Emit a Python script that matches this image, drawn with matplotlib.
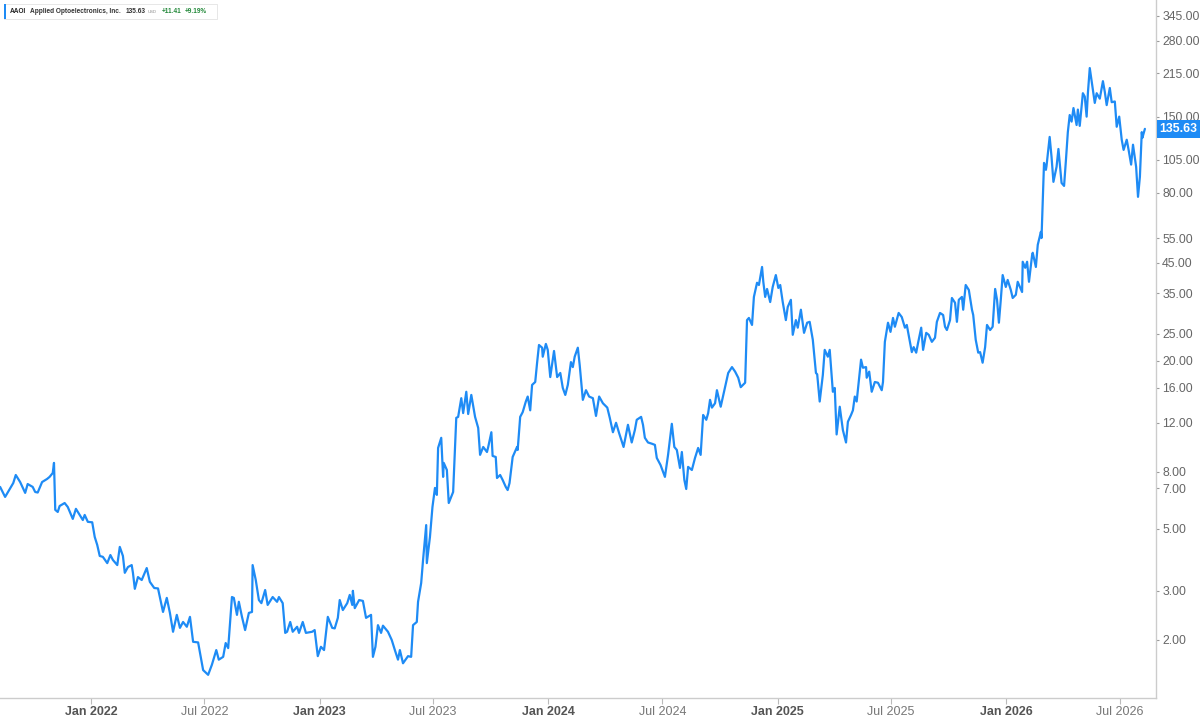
import matplotlib
matplotlib.use("Agg")
import matplotlib.pyplot as plt
from matplotlib.patches import Rectangle
from matplotlib.ticker import FixedLocator, FixedFormatter, NullLocator
import pandas as pd

# ---------------- data ----------------
ticker = "AAOI"
company = "Applied Optoelectronics, Inc."
last_price = 135.63
change = 11.41
change_pct = 9.19
currency = "USD"

dates = [
    "2021-08-09", "2021-08-17", "2021-08-30", "2021-09-03", "2021-09-10", "2021-09-18", "2021-09-22",
    "2021-09-30", "2021-10-04", "2021-10-08", "2021-10-15", "2021-10-23", "2021-10-27", "2021-11-01",
    "2021-11-03", "2021-11-05", "2021-11-09", "2021-11-12", "2021-11-20", "2021-11-25", "2021-12-03",
    "2021-12-08", "2021-12-14", "2021-12-19", "2021-12-22", "2021-12-27",
    "2022-01-03", "2022-01-07", "2022-01-11", "2022-01-15", "2022-01-20", "2022-01-27", "2022-02-01",
    "2022-02-05", "2022-02-12", "2022-02-16", "2022-02-21", "2022-02-24", "2022-03-01", "2022-03-07",
    "2022-03-09", "2022-03-12", "2022-03-17", "2022-03-23", "2022-03-31", "2022-04-05", "2022-04-12",
    "2022-04-18", "2022-04-26", "2022-05-02", "2022-05-07", "2022-05-12", "2022-05-18", "2022-05-23",
    "2022-05-28", "2022-06-03", "2022-06-08", "2022-06-13", "2022-06-21", "2022-06-29", "2022-07-07",
    "2022-07-13", "2022-07-20", "2022-07-24", "2022-07-31", "2022-08-04", "2022-08-08", "2022-08-14",
    "2022-08-17", "2022-08-22", "2022-08-25", "2022-08-30", "2022-09-04", "2022-09-10", "2022-09-15",
    "2022-09-16", "2022-09-21", "2022-09-26", "2022-09-30", "2022-10-06", "2022-10-10", "2022-10-18",
    "2022-10-25", "2022-10-28", "2022-11-03", "2022-11-07", "2022-11-10", "2022-11-15", "2022-11-19",
    "2022-11-26", "2022-11-29", "2022-12-05", "2022-12-10", "2022-12-20", "2022-12-24", "2022-12-29",
    "2023-01-03", "2023-01-08", "2023-01-14", "2023-01-21", "2023-01-25", "2023-01-30", "2023-02-02",
    "2023-02-07", "2023-02-14", "2023-02-18", "2023-02-22", "2023-02-23", "2023-02-26", "2023-03-05",
    "2023-03-11", "2023-03-16", "2023-03-24", "2023-03-27", "2023-03-31", "2023-04-04", "2023-04-09",
    "2023-04-12", "2023-04-20", "2023-04-26", "2023-05-01", "2023-05-06", "2023-05-09", "2023-05-14",
    "2023-05-22", "2023-05-27", "2023-05-30", "2023-06-05", "2023-06-07", "2023-06-12", "2023-06-15",
    "2023-06-20", "2023-06-21", "2023-06-26", "2023-06-30", "2023-07-04", "2023-07-07", "2023-07-09",
    "2023-07-14", "2023-07-17", "2023-07-18", "2023-07-23", "2023-07-26", "2023-08-02", "2023-08-07",
    "2023-08-10", "2023-08-15", "2023-08-18", "2023-08-23", "2023-08-26", "2023-08-31", "2023-09-06",
    "2023-09-11", "2023-09-14", "2023-09-19", "2023-09-25", "2023-09-27", "2023-10-02", "2023-10-04",
    "2023-10-09", "2023-10-11", "2023-10-16", "2023-10-20", "2023-10-25", "2023-10-28", "2023-10-31",
    "2023-11-05", "2023-11-12", "2023-11-13", "2023-11-17", "2023-11-21", "2023-11-26", "2023-11-29",
    "2023-12-03", "2023-12-06", "2023-12-11", "2023-12-14", "2023-12-17", "2023-12-22", "2023-12-23",
    "2023-12-28", "2023-12-31",
    "2024-01-04", "2024-01-10", "2024-01-15", "2024-01-20", "2024-01-24", "2024-01-28", "2024-02-01",
    "2024-02-06", "2024-02-09", "2024-02-12", "2024-02-17", "2024-02-20", "2024-02-25", "2024-03-01",
    "2024-03-06", "2024-03-12", "2024-03-17", "2024-03-22", "2024-03-28", "2024-04-04", "2024-04-08",
    "2024-04-13", "2024-04-18", "2024-04-23", "2024-04-30", "2024-05-07", "2024-05-13", "2024-05-18",
    "2024-05-21", "2024-05-28", "2024-05-31", "2024-06-03", "2024-06-08", "2024-06-14", "2024-06-19",
    "2024-06-22", "2024-06-28", "2024-07-05", "2024-07-10", "2024-07-16", "2024-07-20", "2024-07-24",
    "2024-07-29", "2024-08-01", "2024-08-05", "2024-08-08", "2024-08-11", "2024-08-17", "2024-08-22",
    "2024-08-27", "2024-08-31", "2024-09-04", "2024-09-09", "2024-09-12", "2024-09-15", "2024-09-18",
    "2024-09-23", "2024-09-26", "2024-10-02", "2024-10-09", "2024-10-14", "2024-10-20", "2024-10-25",
    "2024-10-30", "2024-11-03", "2024-11-10", "2024-11-13", "2024-11-16", "2024-11-21", "2024-11-24",
    "2024-11-29", "2024-12-02", "2024-12-07", "2024-12-09", "2024-12-12", "2024-12-15", "2024-12-20",
    "2024-12-24", "2024-12-29",
    "2025-01-02", "2025-01-05", "2025-01-09", "2025-01-14", "2025-01-17", "2025-01-22", "2025-01-25",
    "2025-01-30", "2025-02-02", "2025-02-07", "2025-02-12", "2025-02-17", "2025-02-21", "2025-02-26",
    "2025-03-03", "2025-03-05", "2025-03-09", "2025-03-14", "2025-03-17", "2025-03-22", "2025-03-25",
    "2025-03-30", "2025-04-02", "2025-04-05", "2025-04-10", "2025-04-15", "2025-04-20", "2025-04-23",
    "2025-04-28", "2025-05-01", "2025-05-04", "2025-05-07", "2025-05-14", "2025-05-17", "2025-05-22",
    "2025-05-23", "2025-05-27", "2025-05-31", "2025-06-05", "2025-06-10", "2025-06-16", "2025-06-18",
    "2025-06-21", "2025-06-26", "2025-06-30", "2025-07-04", "2025-07-07", "2025-07-13", "2025-07-18",
    "2025-07-23", "2025-07-26", "2025-07-31", "2025-08-03", "2025-08-06", "2025-08-10", "2025-08-13",
    "2025-08-18", "2025-08-21", "2025-08-26", "2025-08-30", "2025-09-04", "2025-09-09", "2025-09-12",
    "2025-09-17", "2025-09-22", "2025-09-25", "2025-09-28", "2025-10-03", "2025-10-06", "2025-10-11",
    "2025-10-14", "2025-10-17", "2025-10-22", "2025-10-24", "2025-10-28", "2025-11-02", "2025-11-07",
    "2025-11-09", "2025-11-13", "2025-11-17", "2025-11-20", "2025-11-24", "2025-11-28", "2025-12-01",
    "2025-12-06", "2025-12-10", "2025-12-14", "2025-12-17", "2025-12-20", "2025-12-23", "2025-12-26",
    "2025-12-31",
    "2026-01-03", "2026-01-08", "2026-01-11", "2026-01-16", "2026-01-19", "2026-01-26", "2026-01-27",
    "2026-01-31", "2026-02-03", "2026-02-06", "2026-02-11", "2026-02-12", "2026-02-17", "2026-02-20",
    "2026-02-25", "2026-02-26", "2026-03-02", "2026-03-05", "2026-03-06", "2026-03-11", "2026-03-14",
    "2026-03-17", "2026-03-22", "2026-03-25", "2026-03-30", "2026-04-03", "2026-04-06", "2026-04-09",
    "2026-04-12", "2026-04-15", "2026-04-18", "2026-04-23", "2026-04-25", "2026-04-28", "2026-05-03",
    "2026-05-06", "2026-05-09", "2026-05-11", "2026-05-14", "2026-05-19", "2026-05-22", "2026-05-25",
    "2026-05-30", "2026-06-04", "2026-06-07", "2026-06-10", "2026-06-15", "2026-06-18", "2026-06-23",
    "2026-06-26", "2026-06-30", "2026-07-04", "2026-07-07", "2026-07-12", "2026-07-15", "2026-07-19",
    "2026-07-22", "2026-07-27", "2026-07-30", "2026-08-02", "2026-08-05", "2026-08-06", "2026-08-10",
]

prices = [
    7.07, 6.51, 7.30, 7.80, 7.36, 6.73, 7.24,
    7.07, 6.78, 6.75, 7.36, 7.55, 7.68, 7.93,
    8.62, 5.85, 5.75, 6.04, 6.19, 5.99, 5.43,
    5.90, 5.61, 5.38, 5.61, 5.30,
    5.28, 4.68, 4.38, 4.00, 3.97, 3.77, 4.03,
    3.87, 3.71, 4.31, 4.00, 3.48, 3.65, 3.71,
    3.48, 3.05, 3.36, 3.28, 3.62, 3.23, 3.07,
    3.06, 2.52, 2.83, 2.50, 2.14, 2.46, 2.21,
    2.32, 2.23, 2.42, 1.97, 1.96, 1.56, 1.50,
    1.63, 1.84, 1.70, 1.74, 1.95, 1.87, 2.85,
    2.83, 2.46, 2.74, 2.42, 2.17, 2.50, 2.52,
    3.71, 3.28, 2.78, 2.71, 3.02, 2.67, 2.85,
    2.74, 2.85, 2.71, 2.12, 2.14, 2.32, 2.14,
    2.23, 2.12, 2.32, 2.12, 2.14, 2.17, 1.75,
    1.89, 1.84, 2.42, 2.21, 2.20, 2.40, 2.78,
    2.56, 2.71, 2.90, 2.67, 3.00, 2.60, 2.78,
    2.76, 2.40, 2.46, 1.74, 1.89, 2.26, 2.12,
    2.25, 2.14, 2.00, 1.84, 1.70, 1.84, 1.65,
    1.75, 1.74, 2.26, 2.32, 2.74, 3.20, 3.87,
    5.16, 3.77, 4.68, 5.99, 7.01, 6.62, 9.75,
    10.6, 7.68, 8.62, 8.13, 6.19, 6.78, 12.5,
    12.6, 14.7, 13.0, 15.5, 12.9, 15.1, 12.6,
    11.5, 9.21, 9.83, 9.43, 9.83, 11.1, 9.13,
    9.05, 7.61, 7.80, 7.49, 7.07, 6.89, 7.30,
    9.05, 9.83, 9.59, 12.6, 13.1, 14.3, 14.9,
    13.3, 16.4, 16.8, 19.7, 22.8, 22.3, 20.7,
    23.0, 21.9,
    17.5, 21.7, 17.5, 18.1, 16.0, 15.1, 16.4,
    19.8, 19.0, 20.7, 22.3, 19.3, 14.5, 15.7,
    14.9, 14.7, 12.7, 14.9, 14.1, 13.6, 12.5,
    11.1, 12.0, 11.0, 9.83, 11.8, 10.2, 11.3,
    12.3, 12.6, 11.8, 10.6, 10.2, 10.1, 10.0,
    8.98, 8.47, 7.68, 9.21, 11.9, 9.83, 9.59,
    8.27, 9.43, 7.49, 6.95, 8.34, 8.13, 8.98,
    9.75, 9.21, 12.8, 12.3, 13.0, 14.5, 13.6,
    14.1, 15.7, 13.7, 16.1, 18.1, 19.0, 18.3,
    17.4, 16.1, 16.7, 28.0, 28.5, 26.9, 33.9,
    38.1, 37.4, 43.4, 38.4, 33.9, 36.2, 32.5,
    36.8, 40.6,
    36.5, 37.4, 32.5, 28.0, 31.2, 33.1, 24.8,
    28.0, 26.3, 30.5, 25.2, 27.4, 27.6, 23.8,
    18.1, 17.9, 14.3, 17.8, 21.9, 20.7, 21.9,
    15.5, 16.0, 10.9, 13.7, 11.3, 10.2, 12.1,
    12.8, 13.3, 14.9, 14.3, 20.2, 18.9, 19.0,
    17.4, 18.3, 15.5, 16.8, 16.7, 15.7, 16.8,
    23.4, 27.4, 25.4, 28.5, 26.5, 29.7, 28.7,
    26.3, 26.9, 23.4, 21.5, 22.4, 21.4, 23.2,
    26.3, 21.9, 25.2, 24.8, 23.4, 24.2, 27.6,
    29.7, 29.2, 26.5, 25.8, 28.0, 33.6, 32.3,
    27.6, 33.1, 33.9, 30.5, 37.4, 35.9, 30.5,
    29.2, 23.8, 21.4, 21.5, 19.7, 22.4, 26.9,
    25.8, 26.5, 36.2, 33.1, 27.4, 33.1, 40.6,
    36.8,
    39.0, 35.9, 33.6, 34.5, 38.4, 35.3, 45.3,
    43.1, 45.3, 38.4, 47.9, 48.8, 43.4, 52.1,
    58.0, 55.1, 102.4, 96.7, 99.9, 126.9, 107.6,
    87.6, 99.1, 114.9, 86.8, 84.7, 105.0, 132.0,
    152.0, 144.0, 161.0, 140.0, 159.0, 139.0, 182.0,
    177.0, 150.0, 182.0, 224.0, 187.0, 168.0, 182.0,
    174.0, 201.0, 184.0, 165.0, 190.0, 169.0, 170.0,
    138.0, 150.0, 124.0, 114.0, 124.0, 114.0, 101.0,
    119.0, 99.1, 77.4, 91.3, 132.0, 126.0, 135.63,
]

y_tick_values = [2, 3, 5, 7, 8, 12, 16, 20, 25, 35, 45, 55, 80, 105, 130, 150, 215, 280, 345]
x_tick_dates = ["2022-01-01", "2022-07-01", "2023-01-01", "2023-07-01", "2024-01-01",
                "2024-07-01", "2025-01-01", "2025-07-01", "2026-01-01", "2026-07-01"]

# ---------------- style ----------------
BLUE = "#1E8BF5"
GREEN = "#23893A"
plt.rcParams["font.family"] = ["Liberation Sans", "DejaVu Sans"]

W, H = 1200, 717
fig = plt.figure(figsize=(W / 100, H / 100), dpi=100)
fig.patch.set_facecolor("white")
ax = fig.add_axes([0, 1 - 698 / H, 1156 / W, 698 / H])

x = pd.to_datetime(dates)
ax.plot(x, prices, color=BLUE, lw=1.6, solid_joinstyle="round", solid_capstyle="round", zorder=3)

ax.set_yscale("log")
ax.set_ylim(1.239, 392.7)
ax.set_xlim(pd.Timestamp("2021-08-08 20:00"), pd.Timestamp("2026-08-27 17:00"))

# y axis on right
ax.yaxis.tick_right()
ax.yaxis.set_major_locator(FixedLocator(y_tick_values))
ax.yaxis.set_major_formatter(FixedFormatter([f"{v:.2f}" for v in y_tick_values]))
ax.yaxis.set_minor_locator(NullLocator())
ax.tick_params(axis="y", which="major", direction="out", length=2.5, width=0.8,
               color="#9a9a9a", labelcolor="#666666", labelsize=8.8, pad=2)

# x axis
xt = pd.to_datetime(x_tick_dates)
ax.set_xticks(xt)
ax.set_xticklabels([d.strftime("%b %Y") for d in xt])
ax.xaxis.set_minor_locator(NullLocator())
ax.tick_params(axis="x", which="major", direction="out", length=4, width=0.8,
               color="#bbbbbb", labelsize=9, pad=1.5)
for lbl, d in zip(ax.get_xticklabels(), xt):
    if d.month == 1:
        lbl.set_fontweight("bold")
        lbl.set_color("#555555")
    else:
        lbl.set_color("#777777")

for s in ("left", "top"):
    ax.spines[s].set_visible(False)
for s in ("right", "bottom"):
    ax.spines[s].set_color("#cccccc")
    ax.spines[s].set_linewidth(1.0)
ax.grid(False)

# last price label
ax.annotate(f"{last_price:.2f}", xy=(1, last_price), xycoords=("axes fraction", "data"),
            xytext=(2.6, 0), textcoords="offset points", ha="left", va="center",
            color="white", fontweight="bold", fontsize=8.8,
            bbox=dict(boxstyle="square,pad=0.25", fc=BLUE, ec="none"),
            annotation_clip=False, zorder=10)

# header legend box
def fx(px):
    return px / W

def fy(py):
    return 1 - py / H

fig.patches.append(Rectangle((fx(4), fy(18.5)), fx(213), 14.5 / H, transform=fig.transFigure,
                             fc="white", ec="#e3e3e3", lw=0.6, zorder=5))
fig.patches.append(Rectangle((fx(4), fy(18.5)), fx(2), 14.5 / H, transform=fig.transFigure,
                             fc=BLUE, ec="none", zorder=6))

renderer = fig.canvas.get_renderer()
header_items = [
    (ticker, 4.7, "bold", "#222222", 0),
    (company, 4.7, "bold", "#333333", 4),
    (f"{last_price:.2f}", 4.7, "bold", "#333333", 5),
    (currency, 3.0, "normal", "#888888", 1.5),
    (f"+{change:.2f}", 4.7, "bold", GREEN, 5),
    (f"+{change_pct:.2f}%", 4.7, "bold", GREEN, 4),
]
cur_x = 10.0
ty = fy(11.7)
for txt, fs, fw, col, gap in header_items:
    cur_x += gap
    t = fig.text(fx(cur_x), ty, txt, fontsize=fs, fontweight=fw, color=col, va="center", zorder=7)
    bb = t.get_window_extent(renderer=renderer)
    cur_x += bb.width

fig.savefig("out.png", dpi=100, facecolor="white")
